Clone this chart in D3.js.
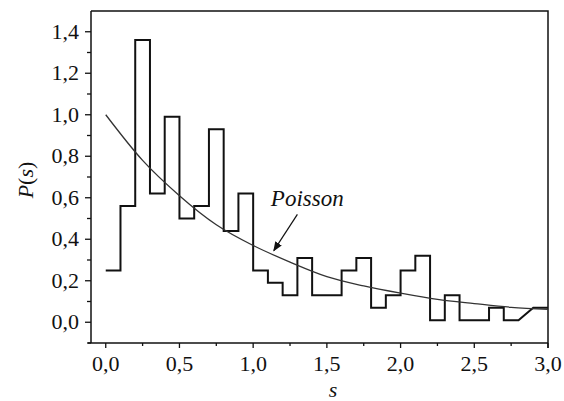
<!DOCTYPE html>
<html>
<head>
<meta charset="utf-8">
<script src="https://cdn.jsdelivr.net/npm/d3@7"></script>
</head>
<body style="margin:0">
<script>
// histogram bins (width 0.1), value per bin; null = no step, drawn as a slant
var binStarts=[0.0,0.1,0.2,0.3,0.4,0.5,0.6,0.7,0.8,0.9,1.0,1.1,1.2,1.3,1.4,1.5,1.6,1.7,1.8,1.9,2.0,2.1,2.2,2.3,2.4,2.5,2.6,2.7,2.8,2.9];
var binValues=[0.25,0.56,1.36,0.62,0.99,0.50,0.56,0.93,0.44,0.62,0.25,0.19,0.13,0.31,0.13,0.13,0.25,0.31,0.07,0.13,0.25,0.32,0.01,0.13,0.01,0.01,0.07,0.01,null,0.07];
var binWidth=0.1;

// Poisson curve
var poissonS=[0,0.25,0.5,0.75,1.0,1.25,1.5,1.75,2.0,2.25,2.5,2.75,3.0];
var poissonP=[1.00,0.78,0.61,0.47,0.37,0.29,0.22,0.175,0.14,0.11,0.09,0.072,0.062];

var xTicks=[0,0.5,1.0,1.5,2.0,2.5,3.0];
var xMinor=[0.25,0.75,1.25,1.75,2.25,2.75];
var yTicks=[0,0.2,0.4,0.6,0.8,1.0,1.2,1.4];
var yMinor=[-0.1,0.1,0.3,0.5,0.7,0.9,1.1,1.3];

var W=564,H=401;
var margin={top:11,right:16,bottom:58,left:91};

var svg=d3.select("body").append("svg")
  .attr("width",W).attr("height",H)
  .attr("font-family","Liberation Serif");

var x=d3.scaleLinear().domain([-0.1,3.0]).range([margin.left,W-margin.right]);
var y=d3.scaleLinear().domain([-0.1,1.5]).range([H-margin.bottom,margin.top]);

var fmt=function(d){return d3.format(".1f")(d).replace(".",",");};

function label(sel){
  return sel.attr("font-family","Liberation Serif")
    .style("font-family",function(){return '"Liberation Serif"'})
    .style("font-size","22px").attr("fill","#111");
}

// frame top + right
svg.append("path")
  .attr("d","M"+x(-0.1)+","+y(1.5)+"H"+x(3.0)+"V"+(y(-0.1)+5))
  .attr("fill","none").attr("stroke","#111").attr("stroke-width",1.5);

// x axis
var gx=svg.append("g").attr("transform","translate(0,"+y(-0.1)+")");
gx.append("line").attr("x1",x(-0.1)-3).attr("x2",x(3.0)).attr("stroke","#111").attr("stroke-width",1.5);
gx.selectAll(".maj").data(xTicks).enter().append("line")
  .attr("x1",function(d){return x(d)}).attr("x2",function(d){return x(d)})
  .attr("y1",0).attr("y2",5).attr("stroke","#111").attr("stroke-width",1.3);
gx.selectAll(".min").data(xMinor).enter().append("line")
  .attr("x1",function(d){return x(d)}).attr("x2",function(d){return x(d)})
  .attr("y1",0).attr("y2",3).attr("stroke","#111").attr("stroke-width",1.3);
gx.selectAll("text").data(xTicks).enter().append("text")
  .attr("x",function(d){return x(d)}).attr("y",28)
  .attr("text-anchor","middle")
  .call(label)
  .text(fmt);

// y axis
var gy=svg.append("g").attr("transform","translate("+x(-0.1)+",0)");
gy.append("line").attr("y1",y(1.5)).attr("y2",y(-0.1)).attr("stroke","#111").attr("stroke-width",1.5);
gy.selectAll(".maj").data(yTicks).enter().append("line")
  .attr("y1",function(d){return y(d)}).attr("y2",function(d){return y(d)})
  .attr("x1",0).attr("x2",-6).attr("stroke","#111").attr("stroke-width",1.3);
gy.selectAll(".min").data(yMinor).enter().append("line")
  .attr("y1",function(d){return y(d)}).attr("y2",function(d){return y(d)})
  .attr("x1",0).attr("x2",-4).attr("stroke","#111").attr("stroke-width",1.3);
gy.selectAll("text").data(yTicks).enter().append("text")
  .attr("x",-12).attr("y",function(d){return y(d)+7})
  .attr("text-anchor","end")
  .call(label)
  .text(fmt);

// axis titles
svg.append("text").attr("x",333).attr("y",397)
  .attr("text-anchor","middle")
  .call(label).style("font-style","italic")
  .text("s");
var yl=svg.append("text").attr("transform","translate(33,180) rotate(-90)")
  .attr("text-anchor","middle")
  .call(label);
yl.append("tspan").style("font-style","italic").text("P");
yl.append("tspan").text("(");
yl.append("tspan").style("font-style","italic").text("s");
yl.append("tspan").text(")");

// histogram vertices
var verts=[];
binStarts.forEach(function(s,i){
  var v=binValues[i];
  if(v===null) return;
  verts.push([s,v]);
  verts.push([s+binWidth,v]);
});
var line=d3.line().x(function(d){return x(d[0])}).y(function(d){return y(d[1])});
svg.append("path").datum(verts)
  .attr("d",line)
  .attr("fill","none").attr("stroke","#111").attr("stroke-width",2)
  .attr("stroke-linejoin","miter");

// Poisson curve
var curve=d3.line().curve(d3.curveMonotoneX)
  .x(function(d,i){return x(poissonS[i])}).y(function(d){return y(d)});
svg.append("path").datum(poissonP)
  .attr("d",curve)
  .attr("fill","none").attr("stroke","#333").attr("stroke-width",1.3);

// annotation
svg.append("text").attr("x",x(1.12)).attr("y",y(0.56))
  .call(label).style("font-style","italic").style("font-size","23px")
  .text("Poisson");
svg.append("defs").append("marker")
  .attr("id","ah").attr("viewBox","0 0 10 10").attr("refX",9).attr("refY",5)
  .attr("markerWidth",8).attr("markerHeight",8).attr("orient","auto")
  .append("path").attr("d","M0,1L10,5L0,9Z").attr("fill","#111");
svg.append("line")
  .attr("x1",x(1.30)).attr("y1",y(0.52))
  .attr("x2",x(1.14)).attr("y2",y(0.345))
  .attr("stroke","#111").attr("stroke-width",1.2)
  .attr("marker-end","url(#ah)");
</script>
</body>
</html>
